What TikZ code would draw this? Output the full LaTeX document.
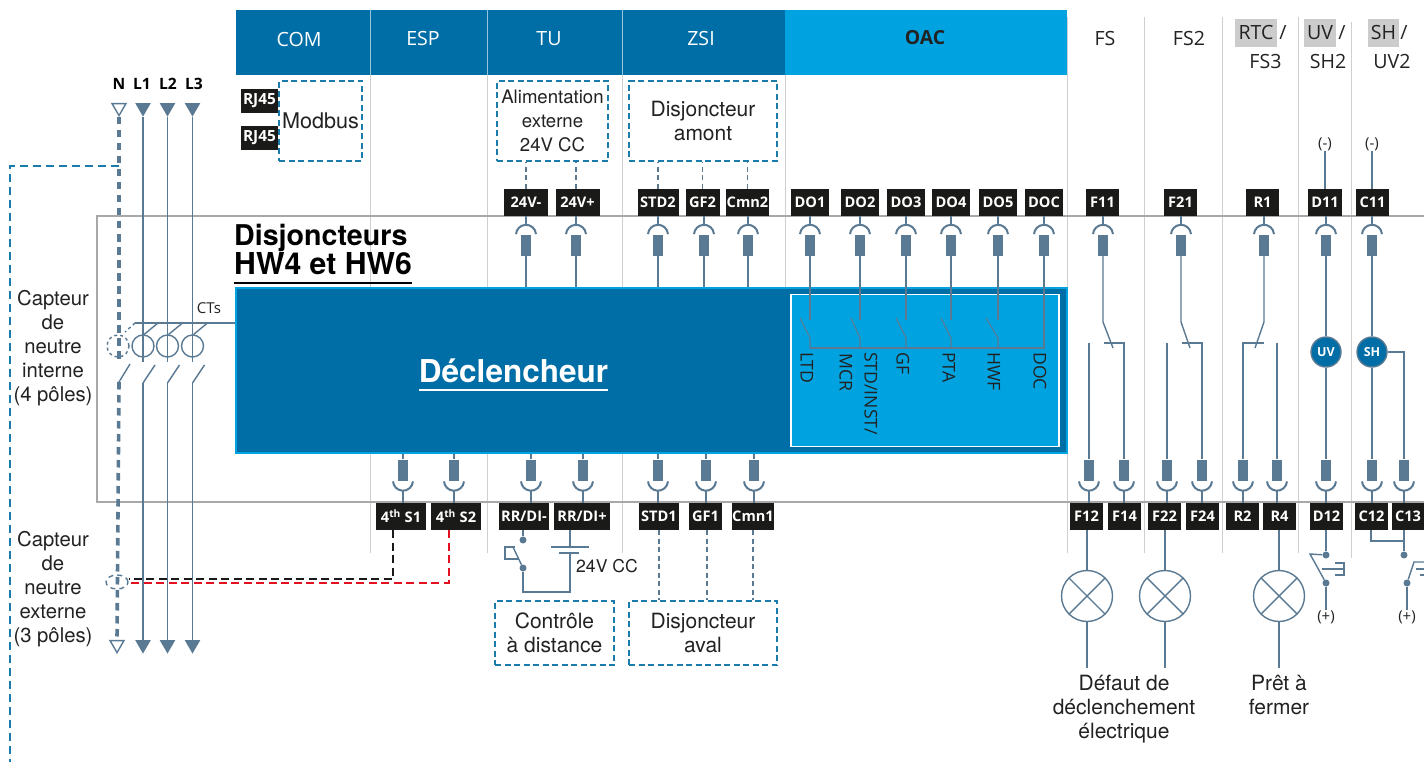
\documentclass[tikz,border=0pt]{standalone}
\usepackage{fontspec}
\usepackage{xcolor}
\usetikzlibrary{positioning}
\usetikzlibrary{shapes.geometric}
\setmainfont{TeX Gyre Heros}
\newfontfamily\myriad{Open Sans}
\definecolor{dkblue}{HTML}{006EA6}
\definecolor{ltblue}{HTML}{00A3E0}
\definecolor{wire}{HTML}{5A7A94}
\definecolor{tagblack}{HTML}{1A1A18}
\definecolor{framegray}{HTML}{A8A8A8}
\definecolor{sepgray}{HTML}{CFCFCF}
\definecolor{dashblue}{HTML}{1A7CAB}
\definecolor{hlgray}{HTML}{CCCCCC}
\definecolor{ink}{HTML}{222222}
\definecolor{dashred}{HTML}{E2111F}

\begin{document}
\begin{tikzpicture}[
	x=1pt,y=-1pt,
	text=ink,
	font=\fontsize{21}{24}\selectfont
]
\tikzset{
    mytag/.style = {rectangle,fill=tagblack,text=white,inner sep=0pt,minimum height=27pt,font=\myriad\bfseries\fontsize{14.6}{16}\selectfont},
    myhead/.style = {inner sep=0pt,font=\myriad\fontsize{19.6}{22}\selectfont},
    mybox/.style = {rectangle,draw=dashblue,line width=1.6pt,dash pattern=on 6pt off 3.5pt,align=center,inner sep=0pt},
    mytext/.style = {align=center,inner sep=0pt},
    mypin/.style = {rectangle,fill=wire,inner sep=0pt,minimum width=10pt,minimum height=21pt},
    myline/.style = {draw=wire,line width=1.4pt},
    myarc/.style = {draw=wire,line width=2pt},
    mydash/.style = {draw=wire,line width=1.6pt,dash pattern=on 5pt off 3.5pt},
    myneutral/.style = {draw=wire,line width=3.6pt,dash pattern=on 7.5pt off 5.5pt},
    mysep/.style = {draw=sepgray,line width=1pt},
    mytri/.style = {regular polygon,regular polygon sides=3,shape border rotate=180,inner sep=0pt,minimum size=18pt,fill=wire},
    myhollow/.style = {mytri,fill=white,draw=wire,line width=1.4pt,minimum size=16pt},
    myring/.style = {circle,draw=wire,line width=1.4pt,inner sep=0pt,minimum size=22pt},
    mydot/.style = {circle,fill=wire,inner sep=0pt,minimum size=7pt},
    mycoil/.style = {circle,fill=dkblue,draw=wire,line width=1.4pt,text=white,inner sep=0pt,minimum size=30pt,font=\myriad\bfseries\fontsize{12.5}{14}\selectfont},
    mylamp/.style = {circle,draw=wire,line width=1.4pt,inner sep=0pt,minimum size=51pt,
        path picture={\draw[myline] (path picture bounding box.north west) -- (path picture bounding box.south east);
        \draw[myline] (path picture bounding box.north east) -- (path picture bounding box.south west);}},
    myoac/.style = {rotate=-90,anchor=west,inner sep=0pt,font=\myriad\fontsize{17.6}{20}\selectfont},
    mysmall/.style = {inner sep=0pt,font=\myriad\fontsize{15}{17}\selectfont}
}
\useasboundingbox[fill=white] (0,0) rectangle (1424,762);

% header
\fill[dkblue] (236,10) rectangle (785,75);
\fill[ltblue] (785,10) rectangle (1067,75);
\foreach \x in {370,487,622} \draw[white,line width=0.8pt,opacity=0.6] (\x,10) -- (\x,75);
\foreach \x in {370,487,622,785} \draw[mysep] (\x,75) -- (\x,288);
\foreach \x in {370,487,622} \draw[mysep] (\x,453) -- (\x,553);
\draw[mysep] (1067,17) -- (1067,553);
\foreach \x in {1144,1222,1298} \draw[mysep] (\x,17) -- (\x,553);
\draw[mysep] (1351,22) -- (1351,558);
\draw[framegray,line width=1.8pt] (1424,216) -- (97,216) -- (97,502) -- (1424,502);

\node[myhead,text=white] (com) at (299,39) {COM};
\node[myhead,text=white] (esp) at (423,39) {ESP};
\node[myhead,text=white] (tu) at (549,39) {TU};
\node[myhead,text=white] (zsi) at (701,39) {ZSI};
\node[myhead,font=\myriad\bfseries\fontsize{19.4}{22}\selectfont] (oac) at (925,38) {OAC};
\node[myhead] (fs) at (1105,39) {FS};
\node[myhead] (fsb) at (1189,39) {FS2};
\node[myhead,fill=hlgray,minimum width=42pt,minimum height=28pt] (rtc) at (1256,33) {RTC};
\node[myhead] at (1283,33) {/};
\node[myhead] (fsc) at (1265.5,62) {FS3};
\node[myhead,fill=hlgray,minimum width=32pt,minimum height=28pt] (uvh) at (1320,33) {UV};
\node[myhead] at (1342,33) {/};
\node[myhead] (shb) at (1328,62) {SH2};
\node[myhead,fill=hlgray,minimum width=31pt,minimum height=28pt] (shh) at (1383.5,33) {SH};
\node[myhead] at (1404,33) {/};
\node[myhead] (uvb) at (1392,62) {UV2};

% dashed boxes
\node[mybox,minimum width=83pt,minimum height=80pt,font=\fontsize{21.6}{24}\selectfont] (modbus) at (320.5,121) {Modbus};
\node[mybox,minimum width=111pt,minimum height=80pt,font=\fontsize{18.6}{24}\selectfont] (alim) at (552.5,121) {Alimentation\\externe\\24V CC};
\node[mybox,minimum width=148pt,minimum height=80pt] (amont) at (703,121) {Disjoncteur\\amont};
\node[mybox,minimum width=119pt,minimum height=64pt] (ctrl) at (554.5,633) {Contrôle\\à distance};
\node[mybox,minimum width=148pt,minimum height=64pt] (aval) at (703,633) {Disjoncteur\\aval};

% tags
\node[mytag,minimum width=37pt,minimum height=24pt,font=\myriad\bfseries\fontsize{15.4}{17}\selectfont] (rjone) at (259.5,101) {RJ45};
\node[mytag,minimum width=37pt,minimum height=24pt,font=\myriad\bfseries\fontsize{15.4}{17}\selectfont] (rjtwo) at (259.5,138) {RJ45};
\node[mytag,minimum width=44pt] (tvm) at (526,202.5) {24V-};
\node[mytag,minimum width=44pt] (tvp) at (577.5,202.5) {24V+};
\node[mytag,minimum width=41pt] (stdb) at (658,202.5) {STD2};
\node[mytag,minimum width=34pt] (gfb) at (702.5,202.5) {GF2};
\node[mytag,minimum width=43pt] (cmnb) at (747.5,202.5) {Cmn2};
\node[mytag,minimum width=38pt] (doa) at (810,202.5) {DO1};
\node[mytag,minimum width=38pt] (dob) at (860,202.5) {DO2};
\node[mytag,minimum width=38pt] (doc) at (906,202.5) {DO3};
\node[mytag,minimum width=38pt] (dod) at (951,202.5) {DO4};
\node[mytag,minimum width=38pt] (doe) at (998,202.5) {DO5};
\node[mytag,minimum width=38pt] (dof) at (1044,202.5) {DOC};
\node[mytag,minimum width=33pt] (fae) at (1102.5,202.5) {F11};
\node[mytag,minimum width=33pt] (fbe) at (1180.5,202.5) {F21};
\node[mytag,minimum width=33pt] (ra) at (1262.5,202.5) {R1};
\node[mytag,minimum width=34pt] (dae) at (1325,202.5) {D11};
\node[mytag,minimum width=33pt] (cae) at (1372.5,202.5) {C11};

\node[mytag,minimum width=50pt] (sa) at (401,516.5) {4\textsuperscript{th} S1};
\node[mytag,minimum width=50pt] (sb) at (456,516.5) {4\textsuperscript{th} S2};
\node[mytag,minimum width=50pt] (rrm) at (524,516.5) {RR/DI-};
\node[mytag,minimum width=56pt] (rrp) at (582,516.5) {RR/DI+};
\node[mytag,minimum width=40pt] (stda) at (659,516.5) {STD1};
\node[mytag,minimum width=33pt] (gfa) at (705.5,516.5) {GF1};
\node[mytag,minimum width=42pt] (cmna) at (753,516.5) {Cmn1};
\node[mytag,minimum width=33pt] (faf) at (1086.5,516.5) {F12};
\node[mytag,minimum width=33pt] (fag) at (1124.5,516.5) {F14};
\node[mytag,minimum width=33pt] (fbf) at (1164.5,516.5) {F22};
\node[mytag,minimum width=33pt] (fbg) at (1202.5,516.5) {F24};
\node[mytag,minimum width=33pt] (rb) at (1242.5,516.5) {R2};
\node[mytag,minimum width=33pt] (rd) at (1279.5,516.5) {R4};
\node[mytag,minimum width=33pt] (daf) at (1326.5,516.5) {D12};
\node[mytag,minimum width=33pt] (caf) at (1371.5,516.5) {C12};
\node[mytag,minimum width=33pt] (cag) at (1408,516.5) {C13};

% trip unit
\node[rectangle,fill=dkblue,draw=ltblue,line width=1.6pt,inner sep=0pt,minimum width=831pt,minimum height=165pt] (decl) at (651.5,370.5) {};
\node[rectangle,fill=ltblue,draw=white,line width=1.6pt,inner sep=0pt,minimum width=268pt,minimum height=152pt] (relay) at (925,370.5) {};
\node[inner sep=0pt,text=white,font=\bfseries\fontsize{31.5}{36}\selectfont] (decltxt) at (513.5,371) {Déclencheur};
\draw[white,line width=2.2pt] (419,390) -- (608,390);
\node[anchor=west,align=left,inner sep=0pt,text=black,font=\bfseries\fontsize{28.6}{29}\selectfont] (title) at (234,249.5) {Disjoncteurs\\\fontsize{30.2}{29}\selectfont HW4 et HW6};
\draw[black,line width=2.4pt] (234,283) -- (412,283);

% upper pins
\foreach \p/\x in {ptvm/526,ptvp/576,pstdb/658,pgfb/704,pcmnb/748,pdoa/810,pdob/860,pdoc/906,pdod/951,pdoe/998,pdof/1044,pfae/1103,pfbe/1181,pra/1264,pdae/1326,pcae/1372}
    \node[mypin] (\p) at (\x,245.5) {};
\foreach \p/\t in {ptvm/tvm,ptvp/tvp,pstdb/stdb,pgfb/gfb,pcmnb/cmnb,pdoa/doa,pdob/dob,pdoc/doc,pdod/dod,pdoe/doe,pdof/dof,pfae/fae,pfbe/fbe,pra/ra,pdae/dae,pcae/cae}{
    \draw[myarc] (\p.north)++(4:10pt) arc[start angle=4,end angle=176,radius=10pt];
    \draw[myline] (\p.north |- \t.south) -- ([yshift=10pt]\p.north);
}
\foreach \p in {ptvm,ptvp,pstdb,pgfb,pcmnb} \draw[myline] (\p.south) -- (\p.south |- decl.north);

% lower pins
\foreach \p/\x in {psa/403,psb/454,prrm/531,prrp/583,pstda/658,pgfa/706,pcmna/754,pfaf/1089,pfag/1124,pfbf/1167,pfbg/1202,prb/1243,prd/1277,pdaf/1326,pcaf/1372,pcag/1404}
    \node[mypin] (\p) at (\x,470) {};
\foreach \p/\t in {psa/sa,psb/sb,prrm/rrm,prrp/rrp,pstda/stda,pgfa/gfa,pcmna/cmna,pfaf/faf,pfag/fag,pfbf/fbf,pfbg/fbg,prb/rb,prd/rd,pdaf/daf,pcaf/caf,pcag/cag}{
    \draw[myarc] (\p.south)++(-4:10pt) arc[start angle=-4,end angle=-176,radius=10pt];
    \draw[myline] (\p.south |- \t.north) -- ([yshift=-10pt]\p.south);
}
\foreach \p in {psa,psb,prrm,prrp,pstda,pgfa,pcmna} \draw[myline] (\p.north) -- (\p.north |- decl.south);

% relay outputs
\foreach \p/\x in {pdoa/800,pdob/851,pdoc/896,pdod/941,pdoe/986}{
    \draw[myline,line width=1.1pt] (\p.south) -- (\p.south |- 0,320);
    \draw[myline,line width=1.1pt] (\x,318) -- (\p.south |- 0,338) -- (\p.south |- 0,348);
}
\draw[myline,line width=1.1pt] (pdoa.south |- 0,348) -- (pdof.south |- 0,348) -- (pdof.south);
\node[myoac] (ltd) at (807,352) {LTD};
\node[myoac] (mcr) at (846,353) {MCR};
\node[myoac] (stdinst) at (871,352) {STD/INST/};
\node[myoac] (gf) at (903,352) {GF};
\node[myoac] (pta) at (949,352) {PTA};
\node[myoac] (hwf) at (994,352) {HWF};
\node[myoac] (docl) at (1040,352) {DOC};

% dashed links
\draw[mydash] (tvm.north) -- (tvm.north |- alim.south);
\draw[mydash] (tvp.north -| ptvp.north) -- (ptvp.north |- alim.south);
\draw[mydash] (stdb.north) -- (stdb.north |- amont.south);
\draw[mydash] (gfb.north) -- (gfb.north |- amont.south);
\draw[mydash] (cmnb.north) -- (cmnb.north |- amont.south);
\draw[mydash] (stda.south) -- (stda.south |- aval.north);
\draw[mydash] ([xshift=1.5pt]gfa.south) -- ([xshift=1.5pt]gfa.south |- aval.north);
\draw[mydash] (cmna.south) -- (cmna.south |- aval.north);

% remote control
\node[mydot] (rca) at (523,540) {};
\node[mydot] (rcb) at (523,568) {};
\draw[myline] (rca.center |- rrm.south) -- (rca);
\draw[myline] (rcb) -- (513,547);
\draw[myline] (515,547) -- (505,547) -- (505,559) -- (519,559);
\coordinate (batp) at (570,553);
\draw[myline] (rcb) -- (523,592) -- (570,592) -- (batp);
\draw[myline,line width=1.6pt] (559,553) -- (579,553);
\draw[myline,line width=1.6pt] (551,547) -- (589,547);
\draw[myline] (570,547) -- (570,530);
\node[anchor=west,inner sep=0pt,font=\fontsize{17.6}{20}\selectfont] (vcc) at (576,566) {24V CC};

% fault and ready contacts
\draw[myline] (pfae.south) -- (1103,322) -- (1113,348);
\draw[myline] (1104,343) -- (pfag.north |- 0,343) -- (pfag.north);
\draw[myline] (pfaf.north |- 0,343) -- (pfaf.north);
\draw[myline] (pfbe.south) -- (1181,322) -- (1190,348);
\draw[myline] (1182,343) -- (pfbg.north |- 0,343) -- (pfbg.north);
\draw[myline] (pfbf.north |- 0,343) -- (pfbf.north);
\draw[myline] (pra.south) -- (1264,322) -- (1255,348);
\draw[myline] (1264,343) -- (prb.north |- 0,343) -- (prb.north);
\draw[myline] (prd.north |- 0,343) -- (prd.north);

\node[mycoil] (uv) at (1326,352) {UV};
\node[mycoil] (sh) at (1372,352) {SH};
\draw[myline] (pdae.south) -- (uv.north);
\draw[myline] (uv.south) -- (pdaf.north);
\draw[myline] (pcae.south) -- (sh.north);
\draw[myline] (sh.south) -- (pcaf.north);
\draw[myline] (sh.east) -- (pcag.north |- sh.east) -- (pcag.north);
\node[mysmall] (mina) at (1325,144) {(-)};
\node[mysmall] (minb) at (1372,144) {(-)};
\draw[myline] (mina.south) -- (mina.south |- dae.north);
\draw[myline] (minb.south) -- (minb.south |- cae.north);

% lamps
\node[mylamp] (lampa) at (1087,596) {};
\node[mylamp] (lampb) at (1165,596) {};
\node[mylamp] (lampc) at (1279,596) {};
\draw[myline] (lampa.north |- faf.south) -- (lampa.north);
\draw[myline] (lampb.north |- fbf.south) -- (lampb.north);
\draw[myline] (lampc.north |- rd.south) -- (lampc.north);
\draw[myline] (lampa.south) -- ++(0,46);
\draw[myline] (lampb.south) -- ++(0,46);
\draw[myline] (lampc.south) -- ++(0,46);
\node[mytext] (defaut) at (1124,709) {Défaut de\\déclenchement\\électrique};
\node[mytext] (pret) at (1279,695) {Prêt à\\fermer};

% undervoltage and shunt push buttons
\node[mydot] (daa) at (1326,555) {};
\node[mydot] (dab) at (1326,583) {};
\draw[myline] (daa.center |- daf.south) -- (daa);
\draw[myline] (dab) -- (1310,554) -- (daa);
\draw[myline] (1335,563) -- (1344,563) -- (1344,575) -- (1335,575);
\draw[myline] (1322,569) -- (1344,569);
\node[mysmall] (plusa) at (1326,617) {(+)};
\draw[myline] (dab) -- (plusa.north);
\node[mydot] (caa) at (1404,555) {};
\node[mydot] (cab) at (1407,583) {};
\draw[myline] (caf.south -| 1371,0) -- (1371,541) -- (1404,541) -- (1404,530);
\draw[myline] (1404,530) -- (caa);
\draw[myline] (cab) -- (1414,562) -- (1424,562);
\draw[myline] (1416,569) -- (1424,569);
\draw[myline] (1420,575) -- (1424,575);
\node[mysmall] (plusb) at (1407,617) {(+)};
\draw[myline] (cab) -- (plusb.north);

% left labels
\node[mytext,font=\fontsize{20.3}{24}\selectfont] (capint) at (53,348) {Capteur\\de\\neutre\\interne\\(4 pôles)};
\node[mytext,font=\fontsize{20.3}{24}\selectfont] (capext) at (53,589) {Capteur\\de\\neutre\\externe\\(3 pôles)};

% external neutral link
\coordinate (nlink) at (119,166);
\coordinate (nout) at (10,762);
\draw[dashblue,line width=1.6pt,dash pattern=on 8pt off 5pt] (nlink) -- (nout |- nlink) -- (nout);

% phases
\foreach \n/\x/\lab/\lx in {1/143/L1/142,2/167.5/L2/168,3/192.5/L3/194}{
    \node[mytri] (top\n) at (\x,107.6) {};
    \node[mytri] (bot\n) at (\x,644.6) {};
    \node[myring] (ct\n) at (\x,346) {};
    \coordinate (up\n) at (\x,362);
    \coordinate (dn\n) at (\x,383);
    \draw[myline] (top\n.corner 1) -- (up\n);
    \draw[myline] (dn\n) -- (bot\n.center);
    \draw[myline] (dn\n) -- ++(12,-18);
    \draw[myline] (\x+15,323) -- (\x+1,334.5);
    \node[inner sep=0pt,font=\myriad\bfseries\fontsize{15.6}{18}\selectfont,text=black] at (\lx,84) {\lab};
}
\draw[myline] (135,323) -- (decl.west |- 0,323);
\node[mysmall] (cts) at (209,308) {CTs};

% neutral
\node[myhollow] (topn) at (119,107.6) {};
\node[myhollow] (botn) at (117,644.6) {};
\node[inner sep=0pt,font=\myriad\bfseries\fontsize{15.6}{18}\selectfont,text=black] at (119,84) {N};
\node[myring,dashed] (ctn) at (118,346) {};
\node[draw=wire,line width=1.4pt,dash pattern=on 5pt off 4pt,ellipse,inner sep=0pt,minimum width=22pt,minimum height=14pt] (ctext) at (117,582) {};
\draw[myneutral] (topn.corner 1) -- (119,362);
\draw[myneutral] (119,382) -- (botn.north);
\draw[myline] (119,382) -- ++(11,-18);
\draw[myline,dashed] (135,323) -- (125,332);

% sensor wires
\coordinate (blkend) at (129,579);
\coordinate (redend) at (129,583);
\draw[tagblack,line width=1.6pt,dash pattern=on 8pt off 4.5pt] ([xshift=-8pt]sa.south) -- ([xshift=-8pt]sa.south |- blkend) -- (blkend);
\draw[dashred,line width=1.6pt,dash pattern=on 8pt off 4.5pt] ([xshift=-7pt]sb.south) -- ([xshift=-7pt]sb.south |- redend) -- (redend);
\end{tikzpicture}
\end{document}
